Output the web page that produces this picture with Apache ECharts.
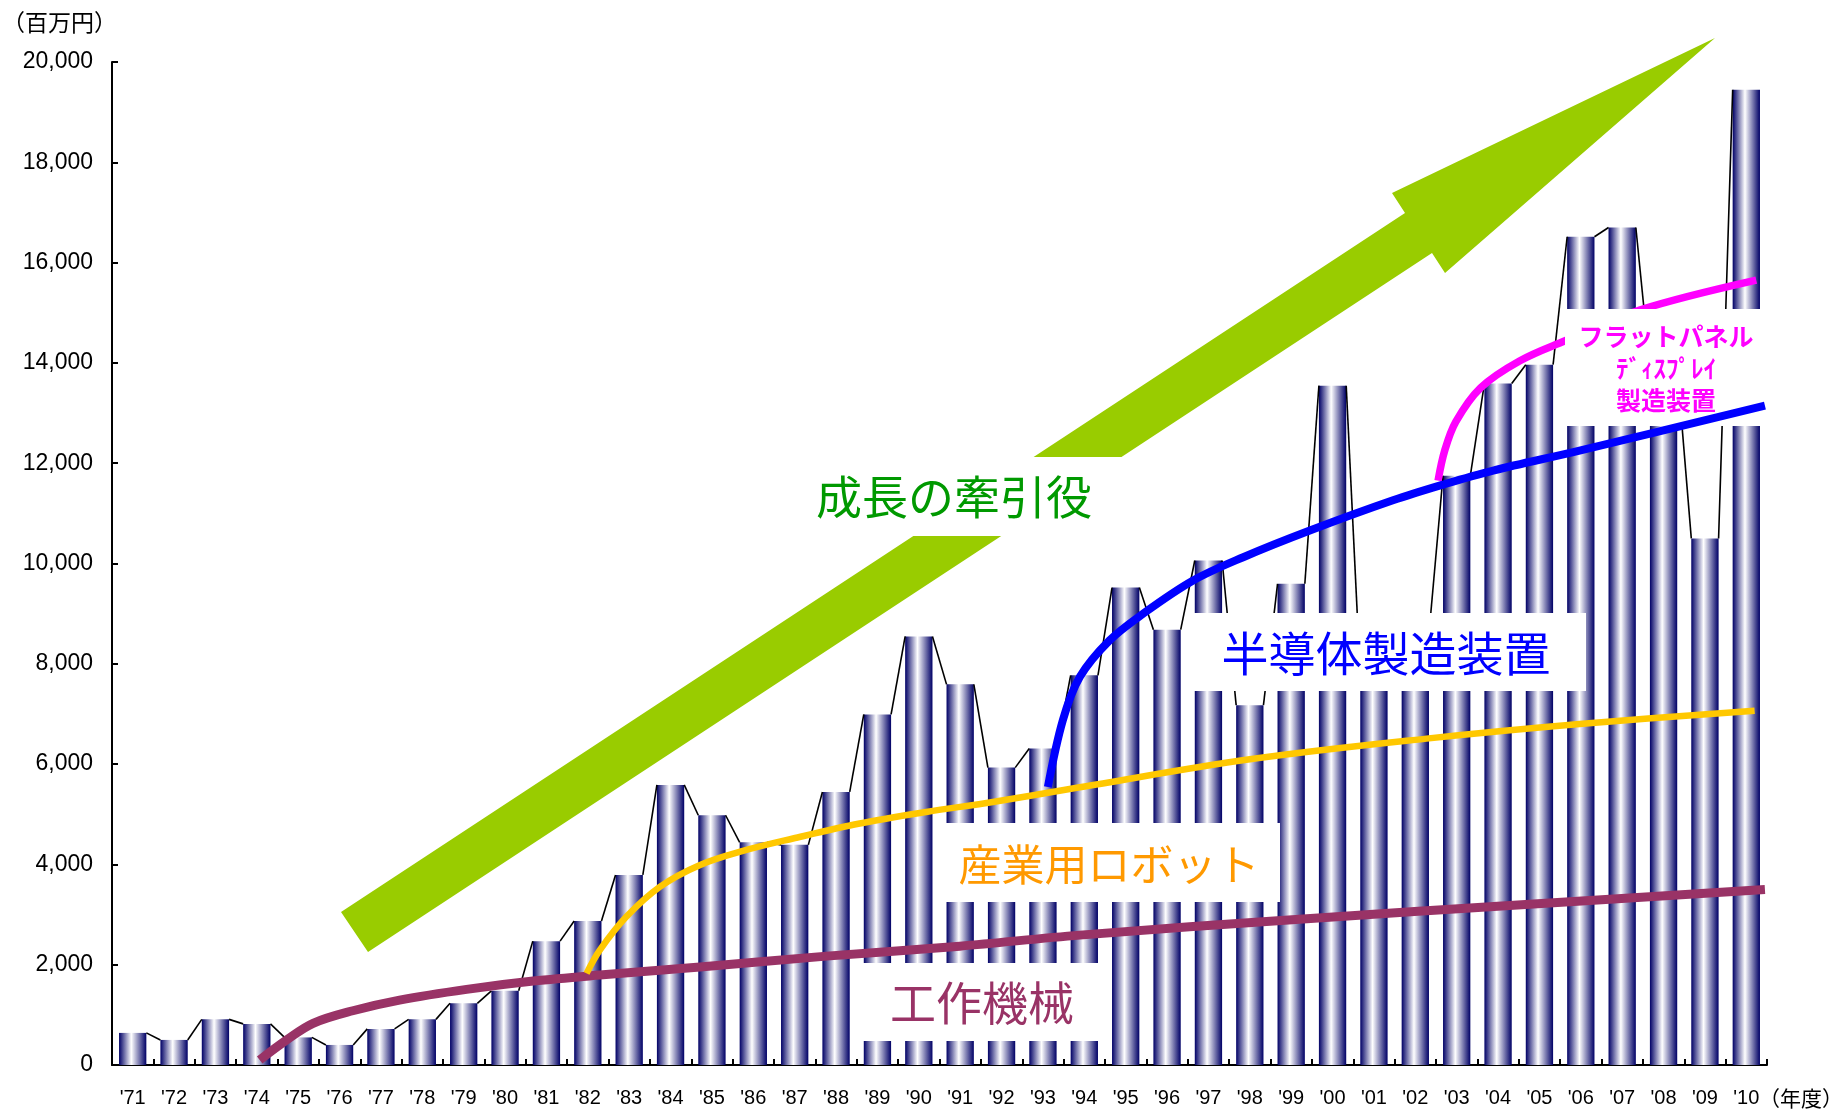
<!DOCTYPE html>
<html><head><meta charset="utf-8">
<script src="https://cdn.jsdelivr.net/npm/echarts@6/dist/echarts.min.js"></script>
<style>html,body{margin:0;padding:0;background:#fff}#c{width:1847px;height:1109px}</style>
</head><body><div id="c"></div>
<script>
// ---- data ----
const categories = ["'71","'72","'73","'74","'75","'76","'77","'78","'79","'80",
  "'81","'82","'83","'84","'85","'86","'87","'88","'89","'90",
  "'91","'92","'93","'94","'95","'96","'97","'98","'99","'00",
  "'01","'02","'03","'04","'05","'06","'07","'08","'09","'10"];
const shipments = [640,500,910,820,550,400,720,910,1230,1480,
  2470,2870,3790,5585,4980,4440,4390,5445,6990,8546,
  7590,5930,6310,7770,9520,8680,10060,7175,9595,13546,
  7750,8600,11750,13590,13965,16515,16700,13900,10500,19445];
const yMin = 0, yMax = 20000, yInterval = 2000;
// trend curves: [fiscal year position, value]
const machineToolCurve = [[1974.07,100],[1974.72,498],[1975.36,831],[1976.32,1082],[1977.45,1295],
  [1979.07,1508],[1980.68,1673],[1982.29,1793],[1984.71,1952],[1987.77,2171],[1990.99,2370],
  [1993.89,2590],[1999.2,2908],[2004.76,3207],[2010.45,3498]];
const robotCurve = [[1981.97,1827],[1982.29,2291],[1982.93,2954],[1983.74,3552],[1984.70,3984],
  [1985.75,4269],[1986.96,4516],[1988.57,4815],[1990.18,5046],[1991.79,5245],[1993.89,5538],
  [1998.0,6096],[2002.27,6508],[2005.97,6799],[2010.2,7066]];
const semiconductorCurve = [[1993.12,5544],[1993.48,6872],[1993.89,7735],[1994.61,8466],[1995.42,8998],
  [1996.63,9661],[1997.84,10125],[1999.45,10657],[2001.46,11260],[2002.67,11573],[2003.88,11853],
  [2005.97,12251],[2010.45,13147]];
const fpdCurve = [[2002.55,11654],[2002.71,12251],[2002.98,12829],[2003.58,13506],[2004.53,14044],
  [2005.62,14442],[2007.42,15054],[2010.24,15651]];
const unitLabel = '（百万円）';
const yearLabel = '（年度）';
const growthLabel = '成長の牽引役';
const semiLabel = '半導体製造装置';
const robotLabel = '産業用ロボット';
const machineLabel = '工作機械';
const fpdLabel = 'フラットパネル\nﾃﾞｨｽﾌﾟﾚｲ\n製造装置';

// ---- chart ----
const BAR_RATIO = 0.66;
const CJK = '"Noto Sans CJK JP", sans-serif';
const LAT = '"Liberation Sans", Arial, sans-serif';
const chart = echarts.init(document.getElementById('c'), null, {renderer:'canvas'});

const barGradient = new echarts.graphic.LinearGradient(0,0,1,0,[
  {offset:0,color:'#000066'},{offset:0.45,color:'#ffffff'},{offset:1,color:'#000066'}]);

const connectorData = shipments.slice(0,-1).map((v,i)=>[i, v, shipments[i+1]]);

function curveSeries(name, data, color, width, z){
  return {name, type:'line', xAxisIndex:1, yAxisIndex:0, data, smooth:0.35,
    showSymbol:false, symbol:'none', z, silent:true,
    lineStyle:{color, width, cap:'butt', join:'round'}};
}

function box(x,y,w,h){
  return {type:'rect', shape:{x,y,width:w,height:h}, style:{fill:'#ffffff'}, z:6, silent:true};
}
function label(text,x,y,size,color,extra){
  return Object.assign({type:'text', x, y, z:9, silent:true,
    style:{text, fill:color, font:`${size}px ${CJK}`, align:'center', verticalAlign:'middle'}}, extra||{});
}

const option = {
  animation:false,
  backgroundColor:'#ffffff',
  grid:{left:112, right:80, top:62, bottom:44, containLabel:false},
  xAxis:[{
    type:'category', data:categories, boundaryGap:true,
    axisLine:{show:true, lineStyle:{color:'#000', width:2}},
    axisTick:{show:true, inside:true, length:6, lineStyle:{color:'#000', width:2}},
    axisLabel:{color:'#000', fontSize:20, fontFamily:LAT, margin:23, interval:0},
    splitLine:{show:false}
  },{
    type:'value', min:1970.5, max:2010.5, show:false, splitLine:{show:false}
  }],
  yAxis:[{
    type:'value', min:yMin, max:yMax, interval:yInterval,
    axisLine:{show:true, lineStyle:{color:'#000', width:2}},
    axisTick:{show:true, inside:true, length:6, lineStyle:{color:'#000', width:2}},
    axisLabel:{color:'#000', fontSize:23, fontFamily:LAT, margin:19,
      formatter:v=>v.toLocaleString('en-US')},
    splitLine:{show:false}
  }],
  series:[
    {type:'bar', data:shipments, barWidth:(BAR_RATIO*100)+'%', z:2, silent:true,
      itemStyle:{color:barGradient}},
    {type:'custom', data:connectorData, z:3, silent:true, encode:{x:0,y:1},
      renderItem:function(params, api){
        const i = api.value(0);
        const p0 = api.coord([i, api.value(1)]);
        const p1 = api.coord([i+1, api.value(2)]);
        const hw = api.size([1,0])[0]*BAR_RATIO/2;
        return {type:'line', shape:{x1:p0[0]+hw, y1:p0[1], x2:p1[0]-hw, y2:p1[1]},
          style:{stroke:'#000', lineWidth:1.6}};
      }},
    curveSeries('工作機械', machineToolCurve, '#993366', 9, 4),
    curveSeries('産業用ロボット', robotCurve, '#FFC800', 6.5, 4),
    curveSeries('フラットパネルディスプレイ製造装置', fpdCurve, '#FF00FF', 7.5, 4),
    curveSeries('半導体製造装置', semiconductorCurve, '#0000FF', 8, 8)
  ],
  graphic:[
    {type:'polygon', z:1, silent:true,
      shape:{points:[[341,912],[1405,213],[1392,193],[1715,38],[1445,273],[1432,253],[368,952]]},
      style:{fill:'#99CC00'}},
    box(795,457,330,79),
    label(growthLabel,954,497,46,'#009900'),
    box(1186,613,400,78),
    label(semiLabel,1386,653,47,'#0000FF'),
    box(942,823,338,79),
    label(robotLabel,1109,865,43,'#FF9900'),
    box(860,963,245,78),
    label(machineLabel,982,1003,46,'#993366'),
    box(1565,309,203,117),
    {type:'text', x:1666, y:368, z:9, silent:true,
      style:{text:fpdLabel, fill:'#FF00FF', font:`bold 25px ${CJK}`, align:'center', verticalAlign:'middle', lineHeight:32}},
    {type:'text', x:2, y:22, z:9, silent:true,
      style:{text:unitLabel, fill:'#000', font:`23px ${CJK}`, align:'left', verticalAlign:'middle'}},
    {type:'text', x:1759, y:1098, z:9, silent:true,
      style:{text:yearLabel, fill:'#000', font:`21px ${CJK}`, align:'left', verticalAlign:'middle'}}
  ]
};
chart.setOption(option);
</script>
</body></html>
